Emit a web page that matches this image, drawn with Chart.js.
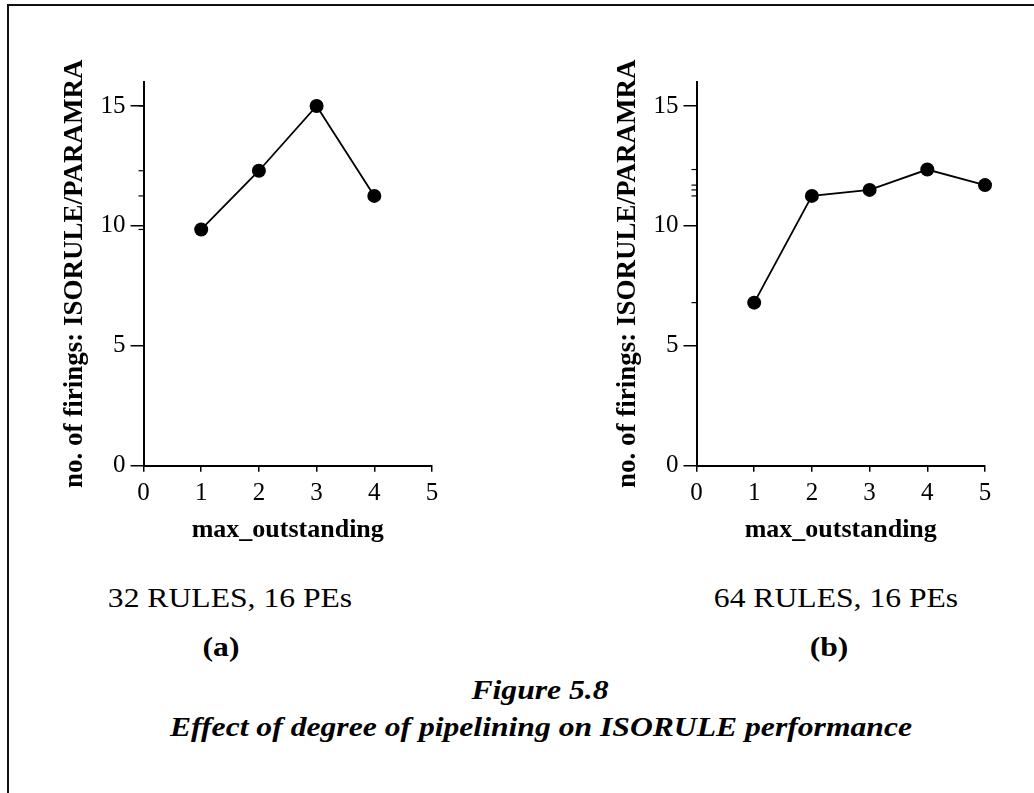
<!DOCTYPE html>
<html>
<head>
<meta charset="utf-8">
<title>Figure 5.8</title>
<script src="https://cdn.jsdelivr.net/npm/chart.js@4/dist/chart.umd.min.js"></script>
<style>
  body { margin: 0; width: 1034px; height: 793px; overflow: hidden; position: relative; background: #fff; color: #000;
         font-family: "Liberation Serif", "Times New Roman", serif; }
  .frame { position: absolute; left: 7px; top: 4px; right: 0; bottom: 0; border-left: 2px solid #111; border-top: 2px solid #111; }
  .box { position: absolute; top: 40px; width: 420px; height: 520px; }
  .txt { position: absolute; transform: translate(-50%, -50%) scaleX(1.13); white-space: nowrap; line-height: 1; }
  .sub { font-size: 28px; }
  .tag { font-size: 28px; font-weight: bold; }
  .fig { font-size: 28px; font-weight: bold; font-style: italic; }
</style>
</head>
<body>
<div class="frame"></div>
<div class="box" style="left:40px"><canvas id="chartA"></canvas></div>
<div class="box" style="left:592.5px"><canvas id="chartB"></canvas></div>

<div class="txt sub" style="left:230px;top:598px">32 RULES, 16 PEs</div>
<div class="txt tag" style="left:221px;top:647px">(a)</div>
<div class="txt sub" style="left:836px;top:598px">64 RULES, 16 PEs</div>
<div class="txt tag" style="left:829px;top:647px">(b)</div>
<div class="txt fig" style="left:540px;top:690px">Figure 5.8</div>
<div class="txt fig" style="left:541px;top:727px">Effect of degree of pipelining on ISORULE performance</div>

<script>
// pipelining depth vs. firing ratio, two rule-set sizes
const xTicks = [0, 1, 2, 3, 4, 5];
const yTicks = [0, 5, 10, 15];
const outstandingA = [1, 2, 3, 4];
const firingsA = [9.85, 12.3, 15.0, 11.25];
const outstandingB = [1, 2, 3, 4, 5];
const firingsB = [6.8, 11.25, 11.5, 12.35, 11.7];

const serif = '"Liberation Serif", "Times New Roman", serif';
Chart.defaults.font.family = serif;
Chart.defaults.color = '#000';

// short marks on the y axis at each plotted value
const valueTicks = {
  id: 'valueTicks',
  afterDraw(chart) {
    const { ctx, chartArea, scales: { y } } = chart;
    ctx.save();
    ctx.strokeStyle = '#000';
    ctx.lineWidth = 1.2;
    chart.data.datasets[0].data.forEach(p => {
      const py = y.getPixelForValue(p.y);
      ctx.beginPath();
      ctx.moveTo(chartArea.left - 5, py);
      ctx.lineTo(chartArea.left, py);
      ctx.stroke();
    });
    ctx.restore();
  }
};

function makeChart(id, xs, ys) {
  return new Chart(document.getElementById(id), {
    type: 'line',
    data: {
      datasets: [{
        data: xs.map((x, i) => ({ x, y: ys[i] })),
        borderColor: '#000', borderWidth: 1.8,
        pointRadius: 7, pointBackgroundColor: '#000', pointBorderWidth: 0,
        tension: 0, clip: false
      }]
    },
    options: {
      responsive: true, maintainAspectRatio: false, animation: false,
      layout: { padding: { top: 42, right: 28, left: 0, bottom: 0 } },
      plugins: { legend: { display: false }, tooltip: { enabled: false } },
      scales: {
        x: {
          type: 'linear', min: 0, max: 5,
          afterBuildTicks: s => { s.ticks = xTicks.map(v => ({ value: v })); },
          afterFit: s => { s.height = 94.3; },
          grid: { drawOnChartArea: false, tickLength: 6, color: '#000', lineWidth: 1.5 },
          border: { color: '#000', width: 2 },
          ticks: { font: { size: 25 }, padding: 7, maxRotation: 0 },
          title: { display: true, text: 'max_outstanding', font: { size: 26, weight: 'bold' }, padding: { top: 0, bottom: 14 } }
        },
        y: {
          min: 0, max: 16,
          afterBuildTicks: s => { s.ticks = yTicks.map(v => ({ value: v })); },
          afterFit: s => { s.width = 103.5; },
          grid: { drawOnChartArea: false, tickLength: 13, color: '#000', lineWidth: 1.5 },
          border: { color: '#000', width: 2 },
          ticks: { font: { size: 25 }, padding: 5 },
          title: { display: true, text: 'no. of firings: ISORULE/PARAMRA', font: { size: 27, weight: 'bold' }, padding: { top: 19, bottom: 0 } }
        }
      }
    },
    plugins: [valueTicks]
  });
}

makeChart('chartA', outstandingA, firingsA);
makeChart('chartB', outstandingB, firingsB);
</script>
</body>
</html>
